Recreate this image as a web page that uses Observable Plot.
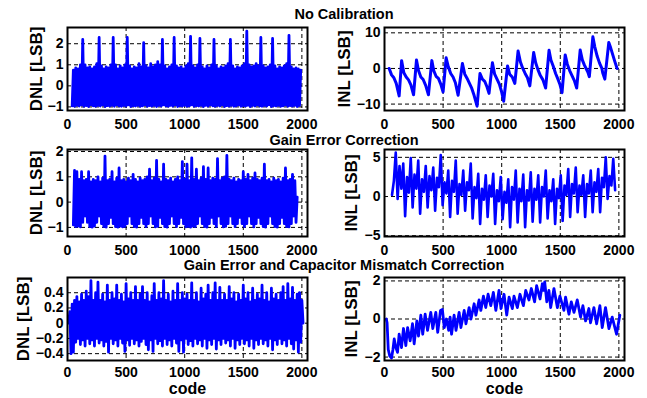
<!DOCTYPE html>
<html><head><meta charset="utf-8">
<script src="https://cdn.jsdelivr.net/npm/d3@7"></script>
<script src="https://cdn.jsdelivr.net/npm/@observablehq/plot@0.6"></script>
<style>
body{margin:0;background:#fff;overflow:hidden;}
#fig{position:relative;width:647px;height:398px;font-family:"Liberation Sans",Arial,sans-serif;}
.panel{position:absolute;}
.title{position:absolute;left:144px;width:400px;text-align:center;font-weight:bold;font-size:14.5px;line-height:14.5px;color:#000;white-space:nowrap;}
</style></head>
<body><div id="fig"></div>
<script>
// ---------- data ----------
const titles = ["No Calibration", "Gain Error Correction", "Gain Error and Capacitor Mismatch Correction"];
const xTicks = [0, 500, 1000, 1500, 2000];

// DNL, no calibration: codes 40,50,...,1990
const dnl1Start = 40, dnl1Step = 10;
const dnl1 = [
-0.95,0.75,-0.97,0.85,-0.92,0.8,-0.96,1.0,-0.9,2.2,-0.97,1.0,-0.94,0.85,-0.98,0.9,-0.9,0.8,-0.95,0.9,
-0.97,1.05,-0.93,2.3,-0.96,0.95,-0.9,0.8,-0.98,0.9,-0.94,0.85,-0.96,1.0,-0.92,2.3,-0.97,1.0,-0.9,0.8,
-0.95,0.95,-0.97,0.85,-0.93,1.0,-0.96,2.3,-0.9,0.95,-0.98,0.8,-0.94,0.9,-0.96,0.85,-0.92,1.05,-0.97,0.9,
-0.95,2.05,-0.9,0.95,-0.97,0.85,-0.94,1.05,-0.96,0.9,-0.92,1.0,-0.98,1.15,-0.93,1.0,-0.96,2.2,-0.9,0.95,
-0.95,0.8,-0.97,0.9,-0.93,1.0,-0.96,2.3,-0.9,0.95,-0.98,0.85,-0.94,0.9,-0.96,0.8,-0.92,0.95,-0.97,1.05,
-0.95,2.35,-0.9,0.95,-0.97,0.85,-0.94,1.0,-0.96,2.25,-0.92,0.9,-0.98,0.8,-0.93,0.95,-0.96,0.85,-0.9,1.0,
-0.95,2.2,-0.97,0.95,-0.93,0.8,-0.96,0.9,-0.9,0.85,-0.98,0.95,-0.94,1.05,-0.96,2.2,-0.92,0.95,-0.97,0.8,
-0.95,0.9,-0.9,0.85,-0.97,0.95,-0.94,1.05,-0.96,2.6,-0.92,1.0,-0.98,0.9,-0.93,0.95,-0.96,1.05,-0.9,0.95,
-0.95,2.3,-0.97,0.95,-0.93,0.85,-0.96,0.9,-0.9,1.0,-0.98,2.25,-0.94,0.95,-0.96,0.8,-0.92,0.9,-0.97,0.85,
-0.95,0.95,-0.9,1.05,-0.97,2.4,-0.94,0.9,-0.96,0.8,-0.92,0.85,-0.98,0.8,-0.93,0.75
];

// INL, no calibration
const inl1Code = [40,60,80,100,125,146,165,185,205,225,248,273,290,310,330,352,375,404,420,440,460,480,500,526,545,565,585,605,628,665,685,705,725,745,765,790,815,835,855,875,892,921,940,960,980,998,1017,1050,1068,1090,1112,1140,1160,1180,1200,1220,1240,1273,1290,1310,1330,1352,1375,1404,1420,1440,1460,1480,1498,1515,1542,1560,1580,1600,1620,1640,1670,1688,1705,1720,1735,1748,1778,1795,1815,1835,1855,1862,1880,1914,1930,1950,1965,1985];
const inl1Val  = [0,-1.8,-2.6,-4.2,-7.7,2.2,-1.2,-2.4,-3.2,-4.6,-7.4,2.4,-0.6,-2.4,-3.1,-4.8,-7.4,2.2,-0.6,-2.2,-2.8,-4.4,-6.6,3.0,0.4,-1.4,-2.4,-4.0,-7.5,1.4,-1.6,-2.8,-4.2,-5.6,-7.6,-10.6,-1.4,-3.0,-3.6,-5.2,-7.0,1.6,-1.6,-3.0,-4.4,-6.4,-9.2,0.7,-1.6,-2.4,-4.2,4.9,1.8,0.0,-1.4,-2.6,-4.9,4.5,1.6,-0.4,-2.0,-3.2,-5.5,5.1,2.4,0.6,-1.4,-3.0,-4.6,-6.8,3.8,1.2,-0.6,-2.0,-3.4,-5.5,5.2,2.4,1.0,0.0,-1.0,-2.3,8.9,6.0,3.4,1.5,0.0,-1.2,-3.0,7.3,5.8,3.6,2.0,0.0];

// DNL, gain error correction: codes 50,60,...,1960
const dnl2Start = 50, dnl2Step = 10;
const dnl2 = [
-0.9,1.25,-0.97,1.2,-0.95,0.9,-0.98,1.2,-0.8,0.85,-0.55,0.9,-0.8,1.2,-0.97,0.8,-0.99,0.9,-0.95,0.85,
-0.8,1.0,-0.55,0.8,-0.85,0.95,-0.97,1.82,-0.99,0.85,-0.85,0.9,-0.6,1.2,-0.85,0.8,-0.97,0.95,-0.99,1.35,
-0.95,0.85,-0.98,0.9,-0.96,0.8,-0.85,0.95,-0.55,0.85,-0.85,1.1,-0.97,0.9,-0.99,0.8,-0.85,0.95,-0.6,0.85,
-0.85,0.9,-0.97,1.0,-0.85,1.3,-0.55,0.85,-0.85,0.95,-0.98,1.65,-0.96,0.9,-0.6,0.8,-0.85,1.5,-0.97,0.9,
-0.99,0.85,-0.85,0.95,-0.55,0.8,-0.85,0.9,-0.97,1.0,-0.85,0.85,-0.6,1.6,-0.85,0.9,-0.98,1.5,-0.96,0.85,
-0.99,1.75,-0.95,0.9,-0.97,1.3,-0.85,0.85,-0.55,0.95,-0.85,1.4,-0.97,0.9,-0.99,1.35,-0.85,0.85,-0.6,0.95,
-0.85,0.9,-0.97,1.72,-0.55,0.85,-0.85,0.95,-0.98,1.0,-0.96,1.85,-0.85,0.9,-0.55,0.85,-0.85,0.95,-0.97,0.8,
-0.85,0.9,-0.6,0.85,-0.85,1.2,-0.97,0.9,-0.85,1.1,-0.55,0.85,-0.85,0.95,-0.98,1.15,-0.85,0.9,-0.6,0.85,
-0.85,0.95,-0.97,1.5,-0.99,0.85,-0.85,0.9,-0.55,0.8,-0.85,0.95,-0.97,0.85,-0.99,0.9,-0.85,0.8,-0.6,0.95,
-0.85,1.35,-0.97,0.85,-0.98,0.9,-0.85,1.1,-0.55,0.85,-0.8,0.2
];

// INL, gain error correction: codes 64,80,...,1968
const inl2Start = 64, inl2Step = 16;
const inl2 = [
0.2,2.0,5.6,-0.3, 3.9,1.0,4.2,-2.5, 2.5,0.5,4.9,-1.4, 2.8,1.0,4.6,-2.2, 2.2,0.6,3.9,-1.4,
2.6,0.8,3.7,-1.8, 2.4,1.2,5.3,-1.1, 1.8,0.4,3.3,-2.6, 2.0,0.6,4.6,-2.2, 1.6,0.2,3.3,-1.8,
1.8,0.8,4.2,-2.8, 1.2,-0.2,2.9,-3.5, 1.0,-0.4,2.7,-2.6, 1.4,0.0,2.9,-3.5, 0.8,-0.6,2.5,-2.9,
0.6,-0.8,2.2,-3.9, 1.2,-0.4,3.3,-3.3, 1.0,-0.6,2.8,-3.9, 0.8,-0.5,3.1,-3.2, 1.0,-0.4,2.7,-3.3,
1.2,0.0,3.3,-2.8, 0.8,-0.6,2.2,-3.5, 1.0,-0.2,2.7,-3.1, 1.4,0.2,3.5,-2.6, 1.6,0.4,3.7,-2.0,
1.4,0.2,2.7,-2.6, 1.6,0.4,3.3,-2.0, 1.8,0.6,3.5,-2.0, 2.4,1.2,5.0,-0.3, 2.6,1.4,4.8,0.8
];

// DNL, gain error and capacitor mismatch correction: codes 10,20,...,2010
const dnl3Start = 10, dnl3Step = 10;
const dnl3 = [
0.0,0.15,-0.4,0.25,-0.38,0.3,-0.25,0.35,-0.2,0.28,-0.28,0.38,-0.22,0.3,-0.3,0.42,-0.2,0.35,-0.27,0.56,
-0.22,0.3,-0.3,0.4,-0.2,0.54,-0.26,0.3,-0.22,0.38,-0.3,0.28,-0.24,0.5,-0.38,0.3,-0.2,0.4,-0.27,0.32,
-0.22,0.5,-0.3,0.3,-0.2,0.38,-0.26,0.28,-0.37,0.52,-0.22,0.32,-0.29,0.4,-0.2,0.3,-0.27,0.48,-0.22,0.3,
-0.3,0.38,-0.24,0.48,-0.2,0.3,-0.28,0.4,-0.35,0.28,-0.22,0.36,-0.37,0.52,-0.2,0.3,-0.27,0.4,-0.23,0.32,
-0.3,0.56,-0.2,0.3,-0.28,0.38,-0.22,0.28,-0.3,0.42,-0.2,0.3,-0.26,0.52,-0.37,0.3,-0.22,0.4,-0.38,0.32,
-0.2,0.38,-0.28,0.3,-0.23,0.53,-0.3,0.3,-0.2,0.4,-0.27,0.28,-0.22,0.46,-0.3,0.32,-0.2,0.38,-0.33,0.5,
-0.22,0.3,-0.28,0.4,-0.2,0.53,-0.34,0.3,-0.22,0.47,-0.28,0.3,-0.2,0.38,-0.26,0.3,-0.22,0.48,-0.3,0.32,
-0.2,0.4,-0.33,0.28,-0.22,0.38,-0.28,0.3,-0.2,0.5,-0.27,0.32,-0.22,0.4,-0.3,0.28,-0.2,0.46,-0.33,0.3,
-0.22,0.38,-0.28,0.32,-0.2,0.5,-0.27,0.3,-0.22,0.4,-0.3,0.28,-0.2,0.46,-0.35,0.32,-0.22,0.38,-0.28,0.3,
-0.2,0.4,-0.27,0.48,-0.22,0.3,-0.3,0.52,-0.2,0.32,-0.27,0.47,-0.34,0.3,-0.22,0.38,-0.38,0.4,-0.25,0.3,
0.0
];

// INL, gain error and capacitor mismatch correction
const inl3Code = [15,22,32,45,60,72,83,97,111,125,145,162,182,197,219,239,253,276,290,310,326,347,367,395,412,438,454,478,494,510,528,548,560,572,594,610,637,652,680,695,722,738,765,780,807,822,844,864,884,907,929,950,977,994,1020,1043,1063,1091,1105,1134,1156,1185,1205,1233,1253,1281,1298,1327,1347,1356,1367,1385,1403,1418,1446,1475,1497,1531,1545,1574,1594,1617,1645,1673,1693,1716,1744,1758,1787,1810,1838,1858,1886,1915,1943,1980,2008];
const inl3Val  = [0.0,-0.2,-1.6,-1.95,-2.05,-1.6,-1.05,-1.5,-1.75,-0.8,-1.5,-0.5,-1.4,-0.45,-1.15,-0.25,-1.3,-0.1,-0.9,0.2,-0.8,0.25,-0.6,0.35,-0.5,0.35,-0.7,0.45,0.5,-0.45,0.0,-0.6,0.1,-0.8,0.2,-0.6,0.35,-0.45,0.45,-0.25,0.6,0.0,0.8,0.2,1.0,0.45,1.2,0.6,1.3,0.7,1.4,0.45,1.5,0.55,1.3,0.2,1.15,0.55,1.2,0.6,1.3,0.7,1.5,1.0,1.6,0.9,1.75,1.05,1.85,1.5,1.95,0.9,1.5,0.6,1.6,0.6,1.2,0.45,1.15,0.25,0.9,0.35,1.0,0.1,0.7,-0.1,0.55,-0.2,0.6,-0.25,0.7,-0.45,0.6,-0.5,0.1,-0.8,0.2];

// ---------- helpers ----------
const seq = (vals, start, step) => vals.map((v, i) => ({code: start + step * i, v}));
const pairs = (codes, vals) => codes.map((c, i) => ({code: c, v: vals[i]}));
const fmt = d => (d < 0 ? "\u2212" : "") + Math.abs(d);

const fig = document.getElementById("fig");
const FONT = "Liberation Sans, Arial, Helvetica, sans-serif";

function panel({rows, yDomain, yTicks, yLabel, labelDx, xLabel, sw, left, top, width, mLeft, mRight, mTop, mBottom, frameH}) {
  const marks = [
    Plot.gridX(xTicks.slice(1), {stroke: "black", strokeOpacity: 1, strokeWidth: 1, strokeDasharray: "4,3"}),
    Plot.gridY(yTicks, {stroke: "black", strokeOpacity: 1, strokeWidth: 1, strokeDasharray: "4,3"}),
    Plot.line(rows, {x: "code", y: "v", stroke: "#0000ff", strokeWidth: sw, clip: true}),
    Plot.frame({stroke: "black", strokeWidth: 2}),
    Plot.axisX({ticks: xTicks, tickSize: 0, tickPadding: xLabel ? 6.5 : 9, fontSize: 14, fontWeight: "bold", tickFormat: fmt, label: null}),
    Plot.axisY({ticks: yTicks, tickSize: 0, tickPadding: 4, fontSize: 14, fontWeight: "bold", tickFormat: fmt, label: null}),
    Plot.text([yLabel], {frameAnchor: "left", dx: labelDx, rotate: -90, textAnchor: "middle", lineAnchor: "middle", fontSize: 17, fontWeight: "bold", fill: "black"})
  ];
  if (xLabel) marks.push(Plot.text([xLabel], {frameAnchor: "bottom", dy: 28.5, textAnchor: "middle", lineAnchor: "middle", fontSize: 16, fontWeight: "bold", fill: "black"}));
  const svg = Plot.plot({
    width, height: mTop + frameH + mBottom,
    marginLeft: mLeft, marginRight: mRight, marginTop: mTop, marginBottom: mBottom,
    x: {domain: [0, 2048]},
    y: {domain: yDomain},
    style: {fontFamily: FONT, background: "transparent", overflow: "visible", color: "black"},
    marks
  });
  const div = document.createElement("div");
  div.className = "panel";
  div.style.left = left + "px";
  div.style.top = top + "px";
  div.appendChild(svg);
  fig.appendChild(div);
}

const L = {left: 0, width: 320, mLeft: 67, mRight: 13};
const R = {left: 320, width: 327, mLeft: 64, mRight: 23};
const row1 = {top: 20, mTop: 7, frameH: 83, mBottom: 25};
const row2 = {top: 144, mTop: 5, frameH: 87, mBottom: 25};
const row3 = {top: 270, mTop: 7, frameH: 83, mBottom: 38};

panel({...L, ...row1, rows: seq(dnl1, dnl1Start, dnl1Step), yDomain: [-1.17, 2.77], yTicks: [-1, 0, 1, 2], yLabel: "DNL [LSB]", labelDx: -31, sw: 2.8});
panel({...R, ...row1, rows: pairs(inl1Code, inl1Val), yDomain: [-11.8, 11.5], yTicks: [-10, 0, 10], yLabel: "INL [LSB]", labelDx: -40, sw: 3});
panel({...L, ...row2, rows: seq(dnl2, dnl2Start, dnl2Step), yDomain: [-1.36, 2.08], yTicks: [-1, 0, 1, 2], yLabel: "DNL [LSB]", labelDx: -31, sw: 2.8});
panel({...R, ...row2, rows: seq(inl2, inl2Start, inl2Step), yDomain: [-5.1, 6.0], yTicks: [-5, 0, 5], yLabel: "INL [LSB]", labelDx: -33, sw: 2.6});
panel({...L, ...row3, rows: seq(dnl3, dnl3Start, dnl3Step), yDomain: [-0.49, 0.6], yTicks: [-0.4, -0.2, 0, 0.2, 0.4], yLabel: "DNL [LSB]", labelDx: -44, sw: 2.8, xLabel: "code"});
panel({...R, ...row3, rows: pairs(inl3Code, inl3Val), yDomain: [-2.18, 2.18], yTicks: [-2, 0, 2], yLabel: "INL [LSB]", labelDx: -33, sw: 2.8, xLabel: "code"});

const titleTops = [7, 133, 258];
titles.forEach((t, i) => {
  const d = document.createElement("div");
  d.className = "title";
  d.style.top = titleTops[i] + "px";
  d.textContent = t;
  fig.appendChild(d);
});
</script>
</body></html>
